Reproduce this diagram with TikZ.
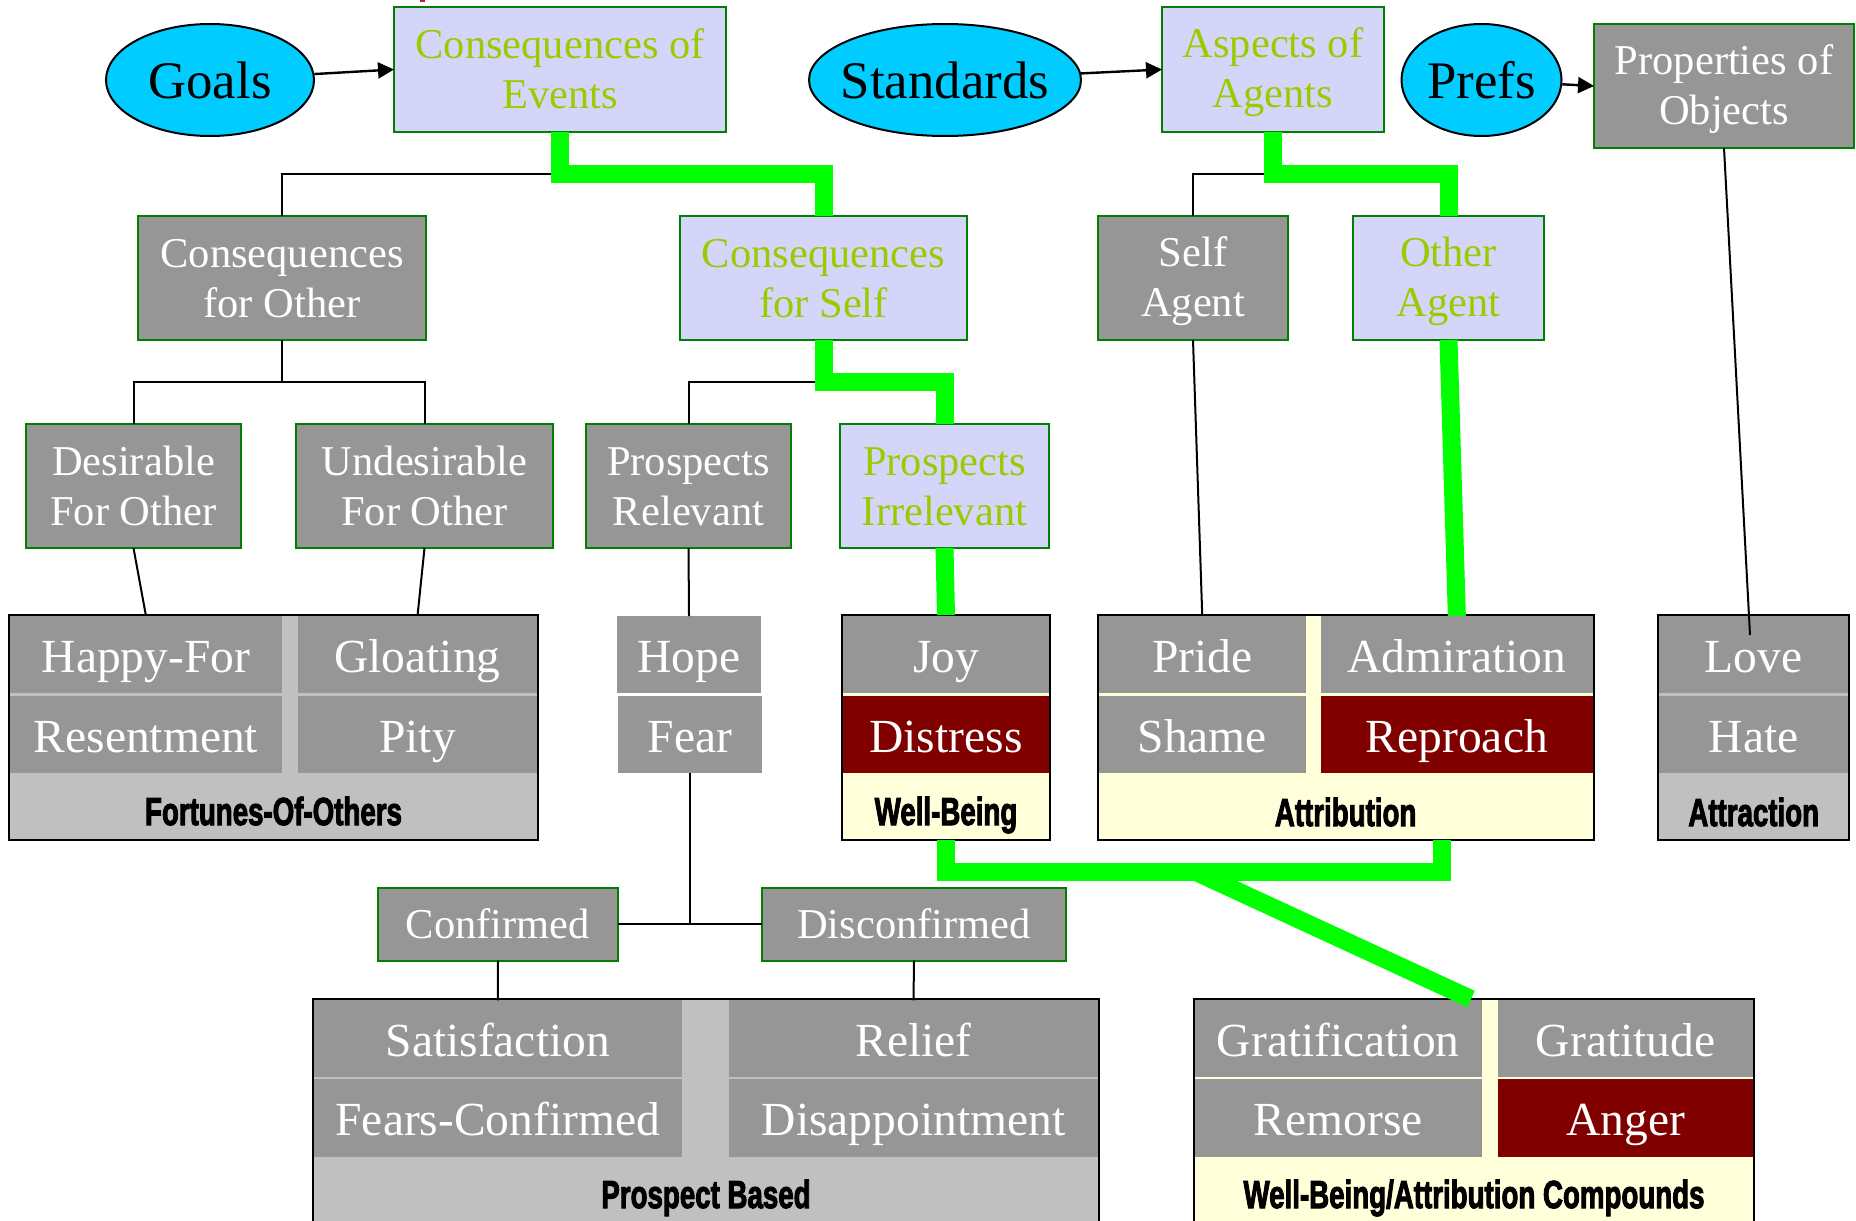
\documentclass[tikz,border=0pt]{standalone}
\usepackage{fontspec}
\usepackage{graphicx}
\setmainfont{Liberation Serif}
\newfontfamily\grplabelfamily{Liberation Sans}[BoldFeatures={FakeBold=3}]
\usetikzlibrary{shapes.geometric,arrows.meta}

\definecolor{ovalfill}{RGB}{0,204,255}
\definecolor{lavfill}{RGB}{213,213,250}
\definecolor{lavtext}{RGB}{153,204,0}
\definecolor{boxedge}{RGB}{0,128,0}
\definecolor{cellgray}{RGB}{150,150,150}
\definecolor{grpgray}{RGB}{192,192,192}
\definecolor{cream}{RGB}{255,255,217}
\definecolor{darkred}{RGB}{128,0,0}
\definecolor{hilite}{RGB}{0,255,0}
\definecolor{markred}{RGB}{176,30,80}

\newcommand\catfont{\fontsize{21.25pt}{25pt}\selectfont}
\newcommand\emofont{\fontsize{23.75pt}{28pt}\selectfont}
\newcommand\ovfont{\fontsize{26.4pt}{30pt}\selectfont}
\newcommand\grpfont{\grplabelfamily\bfseries\fontsize{19.5pt}{22pt}\selectfont}
% fixed line strut so every box line sits at the same baseline
\newcommand\linestrut{\rule[-4pt]{0pt}{22pt}}
\newcommand\grplabel[1]{\scalebox{0.71}[1]{#1}}
% oval text that does not widen its ellipse
\newcommand\ovaltext[1]{\makebox[0pt]{#1}}

\begin{document}
\begin{tikzpicture}[
  x=0.5pt, y=-0.5pt,
  span/.style n args={4}{at={({(#1+#3)/2},{(#2+#4)/2})},
    minimum width={(#3-#1)*0.5pt}, minimum height={(#4-#2)*0.5pt}},
  plain/.style={rectangle, inner sep=0pt, outer sep=0pt},
  catbox/.style={plain, draw=boxedge, line width=1pt, font=\catfont, align=center},
  lavbox/.style={catbox, fill=lavfill, text=lavtext},
  graybox/.style={catbox, fill=cellgray, text=white},
  oval/.style={ellipse, draw=black, line width=1pt, fill=ovalfill, inner sep=0pt,
    font=\ovfont, text height=20.3pt, text depth=2pt},
  group/.style={plain, draw=black, line width=1pt},
  cell/.style={plain, fill=cellgray, text=white, font=\emofont,
    text height=19.65pt, text depth=2pt},
  redcell/.style={cell, fill=darkred},
  grptext/.style={inner sep=0pt, font=\grpfont, text height=14pt, text depth=0pt},
  tree/.style={draw=black, line width=1pt},
  hl/.style={draw=hilite, line width=9pt},
  arr/.style={draw=black, line width=1.2pt, -{Triangle[length=8pt,width=8pt]}},
]
\fill[white] (0,0) rectangle (1856,1220);
\useasboundingbox (0,0) rectangle (1856,1220);
\clip (0,0) rectangle (1856,1220);

\fill[markred] (420,0) rectangle (425,2);

% ---- top row: appraisal sources and what they apply to
\node[oval, minimum width=104pt, minimum height=56pt] (goals) at (210,80) {\ovaltext{Goals}};
\node[lavbox, span={394}{7}{726}{132}] (coe) {\linestrut Consequences of\\\linestrut Events};
\node[oval, minimum width=136pt, minimum height=56pt] (std) at (945,80) {\ovaltext{Standards}};
\node[lavbox, span={1162}{7}{1384}{132}] (aoa) {\linestrut Aspects of\\\linestrut Agents};
\node[oval, minimum width=80pt, minimum height=56pt] (prefs) at (1481.5,80) {\ovaltext{Prefs}};
\node[graybox, span={1594}{24}{1854}{148}] (poo) {\linestrut Properties of\\\linestrut Objects};

% ---- second row
\node[graybox, span={138}{216}{426}{340}] (cfo) {\linestrut Consequences\\\linestrut for Other};
\node[lavbox, span={680}{216}{967}{340}] (cfs) {\linestrut Consequences\\\linestrut for Self};
\node[graybox, span={1098}{216}{1288}{340}] (sa) {\linestrut Self\\\linestrut Agent};
\node[lavbox, span={1353}{216}{1544}{340}] (oa) {\linestrut Other\\\linestrut Agent};

% ---- third row
\node[graybox, span={26}{424}{241}{548}] (dfo) {\linestrut Desirable\\\linestrut For Other};
\node[graybox, span={296}{424}{553}{548}] (ufo) {\linestrut Undesirable\\\linestrut For Other};
\node[graybox, span={586}{424}{791}{548}] (pr) {\linestrut Prospects\\\linestrut Relevant};
\node[lavbox, span={840}{424}{1049}{548}] (pi) {\linestrut Prospects\\\linestrut Irrelevant};

% ---- emotion groups
\node[group, fill=grpgray, span={9}{615}{538}{839.5}] (fortunes) {};
\node[cell, span={10}{616}{282}{692.7}] (happy) {Happy-For};
\node[cell, span={298}{616}{537}{692.7}] (gloat) {Gloating};
\node[cell, span={10}{696}{282}{772.7}] (resent) {Resentment};
\node[cell, span={298}{696}{537}{772.7}] (pity) {Pity};
\node[grptext] (fortuneslab) at (273.5,811) {\grplabel{Fortunes-Of-Others}};

\node[cell, span={617}{616}{761}{692.7}] (hope) {Hope};
\node[cell, span={618}{696}{762}{772.7}] (fear) {Fear};

\node[group, fill=cream, span={842}{615}{1050}{839.5}] (wb) {};
\node[cell, span={843}{616}{1049}{692.7}] (joy) {Joy};
\node[redcell, span={843}{696}{1049}{772.7}] (distress) {Distress};
\node[grptext] (wblab) at (946,811) {\grplabel{Well-Being}};

\node[group, fill=cream, span={1097.5}{615}{1593.7}{839.5}] (attr) {};
\node[cell, span={1098.5}{616}{1306}{692.7}] (pride) {Pride};
\node[cell, span={1321}{616}{1592.7}{692.7}] (admir) {Admiration};
\node[cell, span={1098.5}{696}{1306}{772.7}] (shame) {Shame};
\node[redcell, span={1321}{696}{1592.7}{772.7}] (reproach) {Reproach};
\node[grptext] (attrlab) at (1345.6,812) {\grplabel{Attribution}};

\node[group, fill=grpgray, span={1658}{615}{1849.4}{839.5}] (attract) {};
\node[cell, span={1659}{616}{1848.4}{692.7}] (love) {Love};
\node[cell, span={1659}{696}{1848.4}{772.7}] (hate) {Hate};
\node[grptext] (attractlab) at (1753.7,812) {\grplabel{Attraction}};

% ---- prospect outcomes
\node[graybox, span={377.6}{887.7}{618.4}{960.7}] (conf) {\linestrut Confirmed};
\node[graybox, span={761.7}{887.7}{1066.3}{960.7}] (disc) {\linestrut Disconfirmed};

\node[group, fill=grpgray, span={313}{999.3}{1099}{1234}] (prospect) {};
\node[cell, span={314}{1000.3}{681.6}{1076.7}] (satisf) {Satisfaction};
\node[cell, span={729}{1000.3}{1098}{1076.7}] (relief) {Relief};
\node[cell, span={314}{1079.3}{681.6}{1156.7}] (fearsconf) {Fears-Confirmed};
\node[cell, span={729}{1079.3}{1098}{1156.7}] (disapp) {Disappointment};
\node[grptext] (prospectlab) at (706,1194) {\grplabel{Prospect Based}};

\node[group, fill=cream, span={1193.7}{999.3}{1754.2}{1234}] (compound) {};
\node[cell, span={1194.7}{1000.3}{1481.8}{1076.7}] (gratif) {Gratification};
\node[cell, span={1498}{1000.3}{1753.2}{1076.7}] (gratit) {Gratitude};
\node[cell, span={1194.7}{1079.3}{1481.8}{1156.7}] (remorse) {Remorse};
\node[redcell, span={1498}{1079.3}{1753.2}{1156.7}] (anger) {Anger};
\node[grptext] (compoundlab) at (1474,1194) {\grplabel{Well-Being/Attribution Compounds}};

% ---- arrows from the sources
\draw[arr] (goals) -- (coe.west);
\draw[arr] (std) -- (aoa.west);
\draw[arr] (prefs) -- (poo.west);

% ---- tree connectors
\draw[tree] (coe.south) -- ++(0,42) -| (cfo.north);
\draw[tree] (cfo.south) -- ++(0,42) coordinate (cfoj);
\draw[tree] (dfo.north) |- (cfoj) -| (ufo.north);
\draw[tree] (cfs.south) -- ++(0,42) -| (pr.north);
\draw[tree] (aoa.south) -- ++(0,42) -| (sa.north);
\draw[tree] (dfo.south) -- (happy.north);
\draw[tree] (ufo.south) -- (gloat.north);
\draw[tree] (pr.south) -- (hope.north);
\draw[tree] (sa.south) -- (pride.north);
\coordinate (lovept) at (1750,635);
\draw[tree] (poo.south) -- (lovept);
\draw[tree] (fear.south) -- (fear.south |- conf.east);
\draw[tree] (conf.east) -- (disc.west);
\draw[tree] (conf.south) -- (satisf.north);
\draw[tree] (disc.south) -- (relief.north);

% ---- highlighted path
\draw[hl] (coe.south) -- ++(0,42) -| (cfs.north);
\draw[hl] (cfs.south) -- ++(0,42) -| (pi.north);
\draw[hl] (pi.south) -- (wb.north);
\draw[hl] (aoa.south) -- ++(0,42) -| (oa.north);
\draw[hl] (oa.south) -- (admir.north);
\coordinate (attrfoot) at (1442,839.5);
\draw[hl] (wb.south) -- ++(0,32.5) -| (attrfoot);
\coordinate (fork) at (1196,872);
\coordinate (cmpfoot) at (1471,999);
\draw[hl] (fork) -- (cmpfoot);
\end{tikzpicture}
\end{document}
